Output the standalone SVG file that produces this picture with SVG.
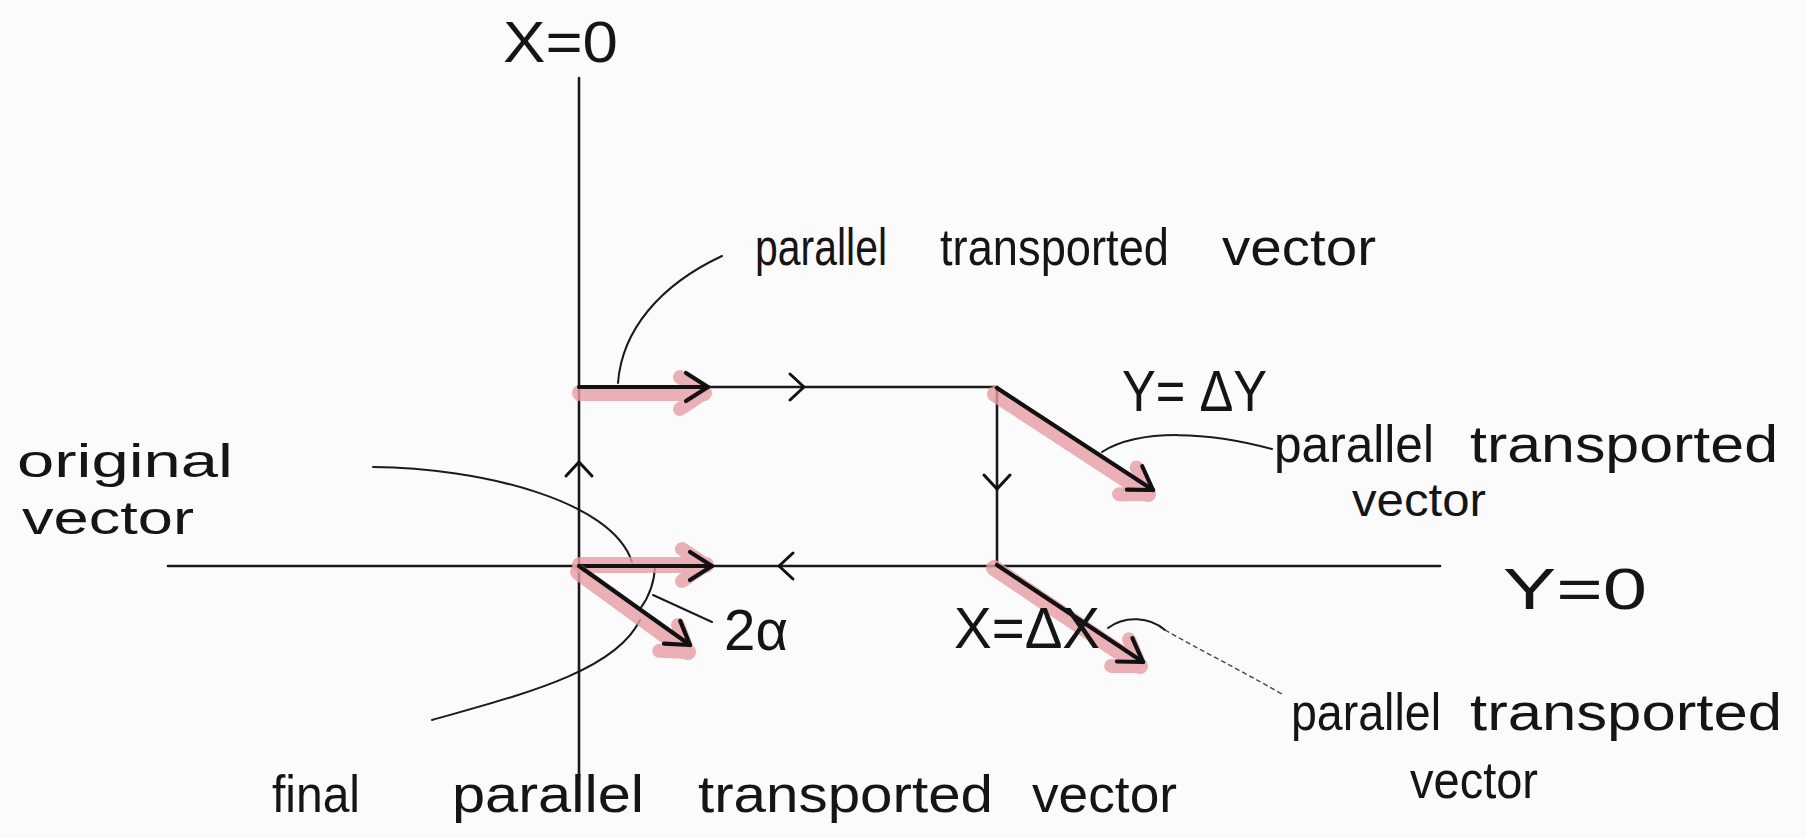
<svg xmlns="http://www.w3.org/2000/svg" width="1806" height="838" viewBox="0 0 1806 838">
<defs>
<style>
.bg{fill:#fbfbfb}
.axis{stroke:#1a1a1a;stroke-width:2.6;fill:none;stroke-linecap:round}
.vec{stroke:#111;stroke-width:4.2;fill:none;stroke-linecap:round}
.hl{stroke:#e79ea4;stroke-width:16;fill:none;stroke-linecap:round;stroke-linejoin:round;opacity:0.8}
.lead{stroke:#1a1a1a;stroke-width:2;fill:none;stroke-linecap:round}
.dot{stroke:#444;stroke-width:1.4;fill:none;stroke-dasharray:5 3}
.chev{stroke:#111;stroke-width:3;fill:none;stroke-linecap:round;stroke-linejoin:round}
.t{font-family:"Liberation Sans",Arial,sans-serif;font-size:46px;fill:#151515}
.m{font-size:52px}
.big{font-size:58px}
</style>
<marker id="ah" markerUnits="userSpaceOnUse" viewBox="-30 -20 36 40" refX="0" refY="0" markerWidth="36" markerHeight="40" orient="auto">
<path d="M-22,-14 L0,0 L-22,14" fill="none" stroke="#111" stroke-width="4.2" stroke-linecap="round" stroke-linejoin="round"/>
</marker>
<marker id="ahp" markerUnits="userSpaceOnUse" viewBox="-40 -30 50 60" refX="0" refY="0" markerWidth="50" markerHeight="60" orient="auto">
<path d="M-24,-16 L0,0 L-24,16" fill="none" stroke="#e79ea4" stroke-width="14" stroke-linecap="round" stroke-linejoin="round"/>
</marker>
<path id="chev" d="M-8,-13 L6,0 L-8,13"/>
</defs>
<rect class="bg" x="0" y="0" width="1806" height="838"/>

<g id="axes">
<line class="axis" x1="579" y1="78" x2="579" y2="778"/>
<line class="axis" x1="168" y1="566" x2="1440" y2="566"/>
</g>

<g id="connectors">
<path class="axis" d="M579,387 L997,387 L997,566"/>
<use href="#chev" class="chev" transform="translate(798,387)"/>
<use href="#chev" class="chev" transform="translate(997,483) rotate(90)"/>
<use href="#chev" class="chev" transform="translate(785,566) rotate(180)"/>
<use href="#chev" class="chev" transform="translate(579,468) rotate(-90)"/>
<path class="lead" d="M618,383 C622,330 660,285 722,256"/>
<path class="lead" d="M373,467 C480,468 612,500 632,562"/>
<path class="lead" d="M432,720 C520,695 615,672 640,620"/>
<path class="lead" d="M653,595 L712,622"/>
<path class="lead" d="M1102,452 C1140,428 1210,432 1272,449"/>
<path class="lead" d="M1108,628 C1125,615 1150,617 1165,630"/>
<path class="dot" d="M1165,630 C1200,650 1240,670 1282,694"/>
<path class="lead" d="M655,566 A76,76 0 0 1 640,609"/>
</g>

<g id="vec-top">
<line class="hl" x1="580" y1="393" x2="704" y2="393" marker-end="url(#ahp)"/>
<line class="vec" x1="579" y1="387" x2="708" y2="387" marker-end="url(#ah)"/>
</g>
<g id="vec-topright">
<line class="hl" x1="995" y1="394" x2="1148" y2="494" marker-end="url(#ahp)"/>
<line class="vec" x1="997" y1="388" x2="1153" y2="490" marker-end="url(#ah)"/>
</g>
<g id="vec-original">
<line class="hl" x1="580" y1="565" x2="706" y2="565" marker-end="url(#ahp)"/>
<line class="vec" x1="579" y1="566" x2="712" y2="566" marker-end="url(#ah)"/>
</g>
<g id="vec-final">
<line class="hl" x1="578" y1="572" x2="688" y2="652" marker-end="url(#ahp)"/>
<line class="vec" x1="579" y1="566" x2="690" y2="645" marker-end="url(#ah)"/>
</g>
<g id="vec-bottomright">
<line class="hl" x1="994" y1="568" x2="1140" y2="666" marker-end="url(#ahp)"/>
<line class="vec" x1="997" y1="565" x2="1143" y2="662" marker-end="url(#ah)"/>
</g>

<g id="labels">
<text class="t big" x="503" y="62" textLength="115" lengthAdjust="spacingAndGlyphs">X=0</text>
<text class="t m" y="265"><tspan x="755" textLength="132" lengthAdjust="spacingAndGlyphs">parallel</tspan><tspan x="940" textLength="229" lengthAdjust="spacingAndGlyphs">transported</tspan><tspan x="1222" textLength="154" lengthAdjust="spacingAndGlyphs">vector</tspan></text>
<text class="t big" x="1122" y="411" textLength="145" lengthAdjust="spacingAndGlyphs">Y= ΔY</text>
<text class="t m" y="462"><tspan x="1274" textLength="160" lengthAdjust="spacingAndGlyphs">parallel</tspan><tspan x="1470" textLength="308" lengthAdjust="spacingAndGlyphs">transported</tspan></text>
<text class="t" x="1352" y="516" textLength="134" lengthAdjust="spacingAndGlyphs">vector</text>
<text class="t" x="17" y="477" textLength="216" lengthAdjust="spacingAndGlyphs">original</text>
<text class="t" x="22" y="534" textLength="172" lengthAdjust="spacingAndGlyphs">vector</text>
<text class="t big" x="1503" y="609" textLength="144" lengthAdjust="spacingAndGlyphs">Y=0</text>
<text class="t big" x="954" y="648" textLength="146" lengthAdjust="spacingAndGlyphs">X=ΔX</text>
<text class="t big" x="724" y="650" textLength="64" lengthAdjust="spacingAndGlyphs">2α</text>
<text class="t m" y="730"><tspan x="1291" textLength="150" lengthAdjust="spacingAndGlyphs">parallel</tspan><tspan x="1470" textLength="312" lengthAdjust="spacingAndGlyphs">transported</tspan></text>
<text class="t m" x="1410" y="798" textLength="128" lengthAdjust="spacingAndGlyphs">vector</text>
<text class="t m" y="812"><tspan x="272" textLength="88" lengthAdjust="spacingAndGlyphs">final</tspan><tspan x="452" textLength="192" lengthAdjust="spacingAndGlyphs">parallel</tspan><tspan x="698" textLength="295" lengthAdjust="spacingAndGlyphs">transported</tspan><tspan x="1032" textLength="145" lengthAdjust="spacingAndGlyphs">vector</tspan></text>
</g>
</svg>
